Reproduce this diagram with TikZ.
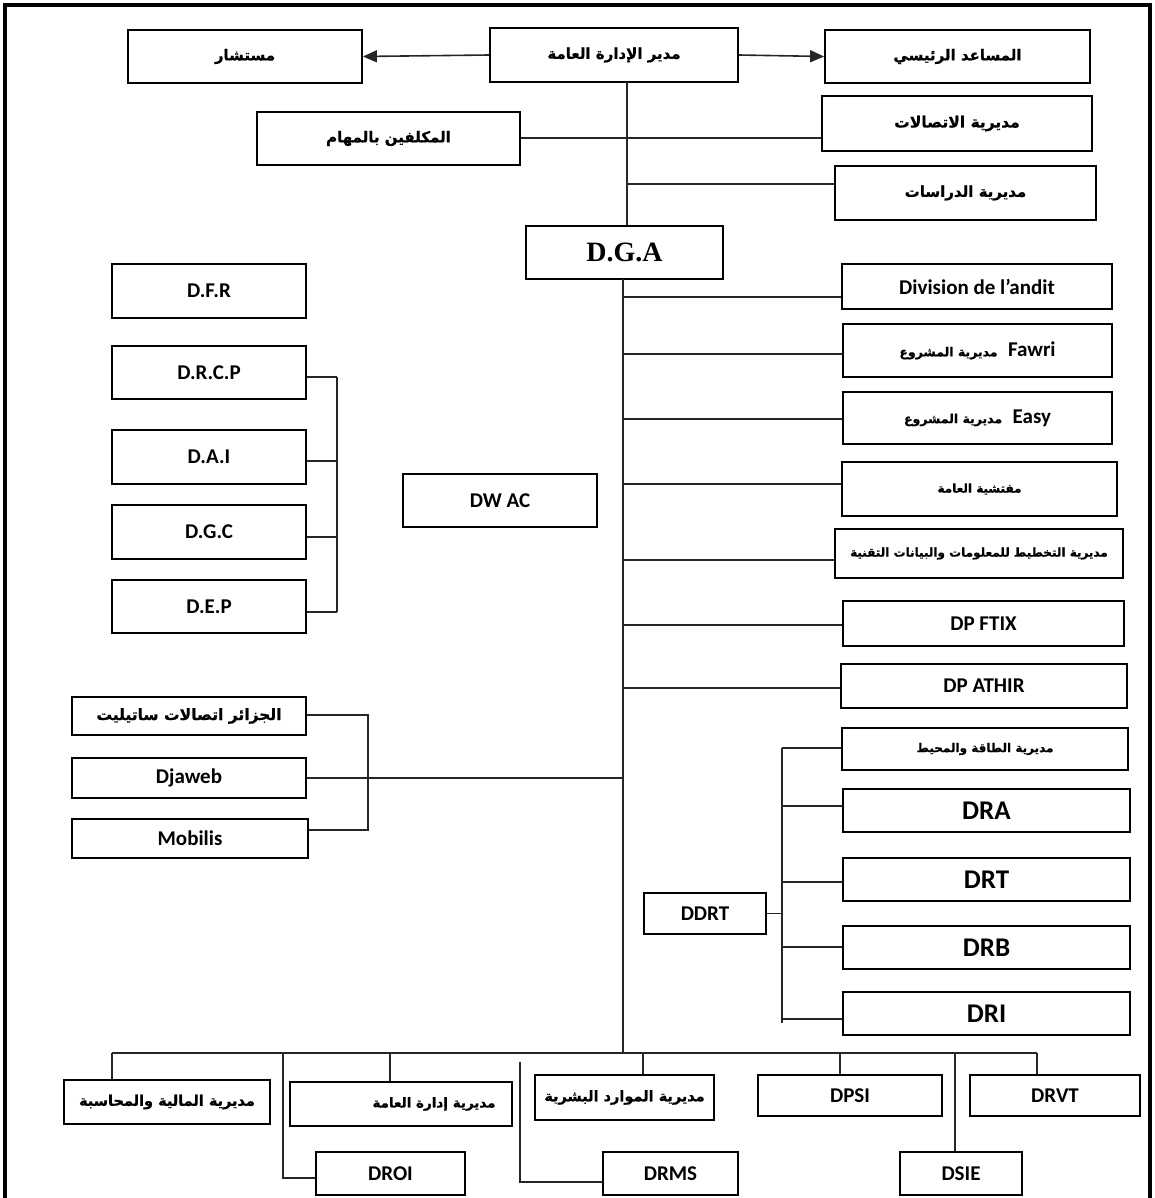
\documentclass[tikz,border=0pt]{standalone}
\usepackage{fontspec}
\setmainfont{Carlito}
\newfontfamily\arabicfont[Script=Arabic,BoldFeatures={FakeBold=0.8}]{DejaVu Sans}
\newfontfamily\serifb{Liberation Serif}
\TeXXeTstate=1
\usetikzlibrary{arrows.meta}
\newcommand\ar[2][15]{{\arabicfont\bfseries\fontsize{#1}{#1}\selectfont\beginR #2\endR}}
\newcommand\bx[7][]{%
 \pgfmathsetmacro\bxw{#5-#3}\pgfmathsetmacro\bxh{#6-#4}%
 \pgfmathsetmacro\bxx{(#3+#5)/2}\pgfmathsetmacro\bxy{-(#4+#6)/2}%
 \node[box,minimum width=\bxw pt,minimum height=\bxh pt,#1] (#2) at (\bxx pt,\bxy pt) {#7};}
\begin{document}
\begin{tikzpicture}[x=1pt,y=1pt,
 box/.style={draw=black,line width=1.8pt,inner sep=0pt,fill=white,
   font=\bfseries\fontsize{21}{23}\selectfont},
 big/.style={font=\bfseries\fontsize{27}{29}\selectfont},
 conn/.style={line width=1.6pt,draw=black!85},
 arr/.style={conn,-{Triangle[length=14pt,width=12pt]}}]
\useasboundingbox (0,0) rectangle (1155,-1198);
\draw[line width=3.5pt] (5,-1215) -- (5,-5) -- (1150,-5) -- (1150,-1215);
% top
\bx{mst}{128}{30}{362}{83}{\ar{مستشار}}
\bx{mgr}{490}{28}{738}{82}{\ar{مدير الإدارة العامة}}
\bx{asst}{825}{30}{1090}{83}{\ar{المساعد الرئيسي}}
\bx{mk}{257}{112}{520}{165}{\ar{المكلفين بالمهام}}
\bx{itt}{822}{96}{1092}{151}{\ar[15.5]{مديرية الاتصالات}}
\bx{dir}{835}{166}{1096}{220}{\ar{مديرية الدراسات}}
\bx[font=\serifb\bfseries\fontsize{28}{30}\selectfont]{dga}{526}{226}{723}{279}{D.G.A}
% right column
\bx{div}{842}{264}{1112}{309}{Division de l’andit}
\bx{faw}{843}{324}{1112}{377}{\ar[12.5]{مديرية المشروع}\enspace Fawri}
\bx{easy}{843}{392}{1112}{444}{\ar[12.5]{مديرية المشروع}\enspace Easy}
\bx{insp}{842}{462}{1117}{516}{\ar[12]{مفتشية العامة}}
\bx{plan}{835}{529}{1123}{578}{\ar[12]{مديرية التخطيط للمعلومات والبيانات التقنية}}
\bx{ftix}{843}{601}{1124}{646}{DP FTIX}
\bx{athir}{841}{664}{1127}{708}{DP ATHIR}
\bx{ene}{842}{728}{1128}{770}{\ar[12]{مديرية الطاقة والمحيط}}
\bx[big]{dra}{843}{789}{1130}{832}{DRA}
\bx[big]{drt}{843}{858}{1130}{901}{DRT}
\bx[big]{drb}{843}{926}{1130}{969}{DRB}
\bx[big]{dri}{843}{992}{1130}{1035}{DRI}
\bx{ddrt}{644}{893}{766}{934}{DDRT}
% left column
\bx{dfr}{112}{264}{306}{318}{D.F.R}
\bx{drcp}{112}{346}{306}{399}{D.R.C.P}
\bx{dai}{112}{430}{306}{484}{D.A.I}
\bx{dgc}{112}{505}{306}{559}{D.G.C}
\bx{dep}{112}{580}{306}{633}{D.E.P}
\bx{dwac}{403}{474}{597}{527}{DW AC}
\bx{sat}{72}{697}{306}{735}{\ar[15.5]{الجزائر اتصالات ساتيليت}}
\bx{djw}{72}{758}{306}{798}{Djaweb}
\bx{mob}{72}{819}{308}{858}{Mobilis}
% bottom
\bx{fin}{64}{1080}{270}{1124}{\ar[14.5]{مديرية المالية والمحاسبة}}
\bx{adm}{290}{1082}{512}{1126}{\hspace*{66pt}\ar[13.5]{مديرية إدارة العامة}}
\bx{hr}{535}{1075}{714}{1120}{\ar[14.5]{مديرية الموارد البشرية}}
\bx{dpsi}{758}{1075}{942}{1116}{DPSI}
\bx{drvt}{970}{1075}{1140}{1116}{DRVT}
\bx{droi}{316}{1152}{465}{1195}{DROI}
\bx{drms}{603}{1152}{738}{1195}{DRMS}
\bx{dsie}{900}{1152}{1022}{1195}{DSIE}
% connectors top
\draw[arr] (mgr.west) -- (mst.east);
\draw[arr] (mgr.east) -- (asst.west);
\coordinate (t0) at (627,-82);
\draw[conn] (t0) -- (t0 |- dga.north);
\draw[conn] (mk.east |- 0,-138) -- (itt.west |- 0,-138);
\coordinate (t1) at (627,-184);
\draw[conn] (t1) -- (dir.west |- t1);
% spine
\coordinate (sp) at (623,-279);
\coordinate (spb) at (623,-1053);
\draw[conn] (sp) -- (spb);
\foreach \n/\y in {div/297,faw/354,easy/419,insp/484,plan/560,ftix/625,athir/688}
  \draw[conn] (623,-\y) -- (\n.west |- 0,-\y);
% DDRT group
\coordinate (dv1) at (782,-748);
\coordinate (dv2) at (782,-1023);
\draw[conn] (dv1) -- (dv2);
\foreach \n/\y in {ene/748,dra/806,drt/882,drb/947,dri/1019}
  \draw[conn] (782,-\y) -- (\n.west |- 0,-\y);
\draw[conn] (ddrt.east) -- (ddrt.east -| dv1);
% left bracket
\foreach \n/\y in {drcp/377,dai/461,dgc/537,dep/612}
  \draw[conn] (\n.east |- 0,-\y) -- (337,-\y);
\draw[conn] (337,-377) -- (337,-612);
% satellite group
\draw[conn] (sat.east |- 0,-715) -- (368,-715) -- (368,-830) -- (mob.east |- 0,-830);
\draw[conn] (djw.east) -- (djw.east -| sp);
% bottom bus
\draw[conn] (112,-1053) -- (1037,-1053);
\foreach \n/\x in {fin/112,adm/390,hr/643,dpsi/840,drvt/1037}
  \draw[conn] (\x,-1053) -- (\n.north -| \x,0);
\draw[conn] (283,-1053) -- (283,-1178) -- (droi.west |- 0,-1178);
\draw[conn] (520,-1062) -- (520,-1182) -- (drms.west |- 0,-1182);
\draw[conn] (955,-1053) -- (dsie.north -| 955,0);
\end{tikzpicture}
\end{document}
